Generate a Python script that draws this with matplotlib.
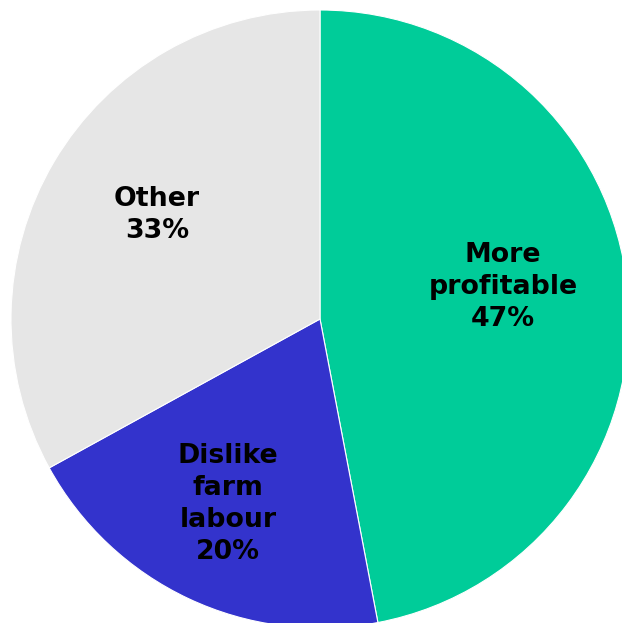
import matplotlib
matplotlib.use("Agg")
import matplotlib.pyplot as plt

labels = ["More\nprofitable", "Dislike\nfarm\nlabour", "Other"]
values = [47, 20, 33]
colors = ["#00CC99", "#3333CC", "#E6E6E6"]

W, H = 622, 623
cx, cy, r = 320, 319, 309  # pixel centre (from top) and radius

fig = plt.figure(figsize=(W / 100, H / 100), dpi=100)
ax = fig.add_axes([0, 0, 1, 1])
wedges, _ = ax.pie(values, colors=colors, startangle=90, counterclock=False,
                   wedgeprops=dict(edgecolor="white", linewidth=0.8))
ax.set_aspect("auto")
ax.set_xlim(-cx / r, (W - cx) / r)
ax.set_ylim(-(H - cy) / r, cy / r)
ax.axis("off")

label_px = [(503, 287), (228, 504), (157, 215)]
for lab, v, (px, py) in zip(labels, values, label_px):
    ax.text((px - cx) / r, (cy - py) / r, f"{lab}\n{v}%", ha="center", va="center",
            fontsize=19.3, fontweight="bold", family="DejaVu Sans",
            linespacing=1.3, color="black")

fig.savefig("out.png", dpi=100)
